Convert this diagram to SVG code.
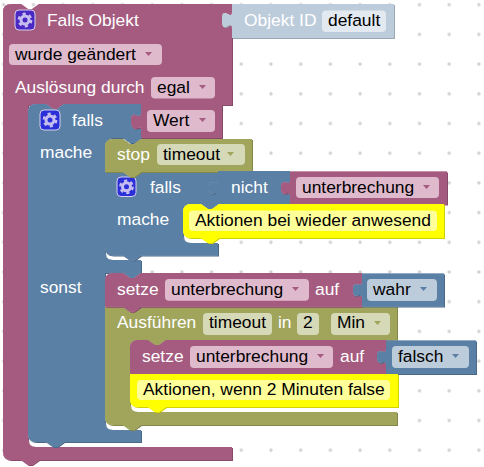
<svg xmlns="http://www.w3.org/2000/svg" width="484" height="467" viewBox="0 0 484 467">
<style>
text{font-family:"Liberation Sans",Arial,sans-serif;font-size:17.4px;fill:#fff}
text.f{fill:#000}
.b{filter:url(#bevel)}
.pu{fill:#a55b80}.bl{fill:#5b80a5}.ol{fill:#a0a55b}.lb{fill:#bdccdb}.ye{fill:#ffff00}
.fp{fill:#dfb9cc}.fo{fill:#d5d9b8}.fb{fill:#bdccdb}.fl{fill:#e3e9f1}.fy{fill:#ffff99}
.cp{fill:#a55b80}.co{fill:#a0a55b}.cb{fill:#5b80a5}
.ic{stroke:#d6d0ee;stroke-width:1}
.g{fill:none;stroke:#c6bdf0}
</style>
<defs>
<pattern id="dots" patternUnits="userSpaceOnUse" x="-11.15" y="-10.15" width="29.7" height="29.7"><circle cx="14.85" cy="14.85" r="1.7" fill="#d0d0d0"/></pattern>
<filter id="bevel" x="-5%" y="-5%" width="110%" height="110%" color-interpolation-filters="sRGB">
<feOffset in="SourceGraphic" dx="0.6" dy="0.6" result="d0"/>
<feComponentTransfer in="d0" result="d"><feFuncR type="linear" slope="0.82"/><feFuncG type="linear" slope="0.82"/><feFuncB type="linear" slope="0.82"/></feComponentTransfer>
<feOffset in="SourceGraphic" dx="-0.4" dy="-0.4" result="l0"/>
<feComponentTransfer in="l0" result="l"><feFuncR type="linear" slope="0.6" intercept="0.4"/><feFuncG type="linear" slope="0.6" intercept="0.4"/><feFuncB type="linear" slope="0.6" intercept="0.4"/></feComponentTransfer>
<feMerge><feMergeNode in="d"/><feMergeNode in="l"/><feMergeNode in="SourceGraphic"/></feMerge>
</filter>
<g id="gear"><circle class="g" r="4" stroke-width="3"/><circle class="g" r="6.2" stroke-width="2.4" stroke-dasharray="3.2 3.3"/></g>
</defs>
<rect width="484" height="467" fill="#fff"/>
<rect width="484" height="467" fill="url(#dots)"/>

<g id="connectors"></g>

<g id="falls-objekt">
<path class="b pu" d="M3 12Q3 4 11 4H21l7 5 4 0 7-5H232V105H64l-7 5-4 0-7-5H28V439Q28 447 36 447H232V460H39l-7 5-4 0-7-5H11Q3 460 3 452Z"/>
<rect x="15" y="10" width="20" height="20" rx="4" fill="#4a28c4" class="ic"/>
<use href="#gear" x="25" y="20"/>
<text x="47" y="26">Falls Objekt</text>
<rect class="fp" x="9" y="44" width="153" height="21" rx="4"/>
<text class="f" x="15" y="60">wurde geändert</text>
<polygon class="cp" points="145,52 152,52 148.5,56"/>
<text x="15" y="93">Auslösung durch</text>
<rect class="fp" x="151" y="77" width="64" height="21.500" rx="4"/>
<text class="f" x="157" y="93">egal</text>
<polygon class="cp" points="199,85 206,85 202.500,89"/>
</g>

<g id="objekt-id">
<path class="b lb" d="M232 38H394V4H232V12c0,10 -10,-8 -10,8s10,-2 10,8Z"/>
<text x="244" y="26">Objekt ID</text>
<rect class="fl" x="322" y="10.500" width="64" height="21.500" rx="4"/>
<text class="f" x="328" y="26">default</text>
</g>

<g id="falls-outer">
<path class="b bl" d="M28 112Q28 104 36 104H46l7 5 4 0 7-5H141V138l-7 5-4 0-7-5H113Q105 138 105 146V252Q105 260 113 260H141V273l-7 5-4 0-7-5H105V422Q105 430 113 430H141V442H64l-7 5-4 0-7-5H36Q28 442 28 434Z"/>
<rect x="40" y="110" width="20" height="20" rx="4" fill="#2a2fd8" class="ic"/>
<use href="#gear" x="50" y="120"/>
<text x="72" y="126">falls</text>
<text x="40" y="158">mache</text>
<text x="40" y="293">sonst</text>
</g>

<g id="wert">
<path class="b pu" d="M222 138H141V129c0,-5 -10,6 -10,-8s10,1 10,-8V105H222Z"/>
<rect class="fp" x="147" y="110" width="68" height="22" rx="4"/>
<text class="f" x="153" y="126">Wert</text>
<polygon class="cp" points="199,118 206,118 202.500,122"/>
</g>

<g id="falls-inner">
<path class="b bl" d="M105 171H218V205H219l-7 5-4 0-7-5H191Q183 205 183 213V235Q183 243 191 243H218V255.500H141l-7 5-4 0-7-5H113Q105 255.500 105 247.500Z"/>
<rect x="117" y="177" width="19" height="19.500" rx="4" fill="#2a2fd8" class="ic"/>
<use href="#gear" x="126.500" y="186.800"/>
<text x="150" y="193">falls</text>
<text x="117" y="225">mache</text>
</g>

<g id="stop">
<path class="b ol" d="M105 147Q105 139 113 139H123l7 5 4 0 7-5H252V172H141l-7 5-4 0-7-5H105Z"/>
<text x="117" y="160">stop</text>
<rect class="fo" x="157" y="144" width="88" height="21" rx="4"/>
<text class="f" x="163" y="160">timeout</text>
<polygon class="co" points="227,152 234,152 230.500,156"/>
</g>

<g id="nicht">
<path class="b bl" d="M290 205H218V196c0,-8 -9,4 -9,-8s9,0 9,-8V171H290Z"/>
<text x="231" y="193">nicht</text>
</g>

<g id="unterbrechung-1">
<path class="b pu" d="M447 204.500H290V196c0,-8 -9,4 -9,-8s9,0 9,-8V171.500H447Z"/>
<rect class="fp" x="296" y="177" width="143" height="21" rx="4"/>
<text class="f" x="302" y="193">unterbrechung</text>
<polygon class="cp" points="423,185 430,185 426.500,189"/>
</g>

<g id="kommentar-1">
<path class="b ye" d="M183 212Q183 204 191 204H201l7 5 4 0 7-5H444V238H219l-7 5-4 0-7-5H191Q183 238 183 230Z"/>
<rect class="fy" x="189" y="210.500" width="248" height="20.500" rx="4"/>
<text class="f" x="195" y="226">Aktionen bei wieder anwesend</text>
</g>

<g id="ausfuehren">
<path class="b ol" d="M105 306H397V340H166l-7 5-4 0-7-5H138Q130 340 130 348V404Q130 412 138 412H397V425H141l-7 5-4 0-7-5H113Q105 425 105 417Z"/>
<text x="117" y="328">Ausführen</text>
<rect class="fo" x="203" y="313" width="69" height="22" rx="4"/>
<text class="f" x="209" y="328">timeout</text>
<text x="278" y="328">in</text>
<rect class="fo" x="297" y="313" width="22" height="22" rx="4"/>
<text class="f" x="303" y="328">2</text>
<rect class="fo" x="331" y="313" width="59" height="22" rx="4"/>
<text class="f" x="337" y="328">Min</text>
<polygon class="co" points="374,321 381,321 377.500,325"/>
</g>

<g id="setze-1">
<path class="b pu" d="M105 281Q105 273 113 273H123l7 5 4 0 7-5H362V306.700H141l-7 5-4 0-7-5H105Z"/>
<text x="117" y="295">setze</text>
<rect class="fp" x="165" y="279" width="144" height="21.700" rx="4"/>
<text class="f" x="171" y="295">unterbrechung</text>
<polygon class="cp" points="292,287 299,287 295.500,291"/>
<text x="315" y="295">auf</text>
</g>

<g id="wahr">
<path class="b bl" d="M444 306.500H362V298c0,-8 -9,4 -9,-8s9,0 9,-8V273.500H444Z"/>
<rect class="fb" x="367" y="279" width="70" height="22" rx="4"/>
<text class="f" x="373" y="295">wahr</text>
<polygon class="cb" points="420,287 427,287 423.500,291"/>
</g>

<g id="setze-2">
<path class="b pu" d="M130 348Q130 340 138 340H148l7 5 4 0 7-5H386V374H166l-7 5-4 0-7-5H130Z"/>
<text x="142" y="362">setze</text>
<rect class="fp" x="190" y="346" width="143" height="22" rx="4"/>
<text class="f" x="196" y="362">unterbrechung</text>
<polygon class="cp" points="317,354 324,354 320.500,358"/>
<text x="340" y="362">auf</text>
</g>

<g id="falsch">
<path class="b bl" d="M476 374H386V365c0,-8 -9,4 -9,-8s9,0 9,-8V340.500H476Z"/>
<rect class="fb" x="392" y="346" width="77" height="22" rx="4"/>
<text class="f" x="398" y="362">falsch</text>
<polygon class="cb" points="452,354 459,354 455.500,358"/>
</g>

<g id="kommentar-2">
<path class="b ye" d="M130 374H398V407H166l-7 5-4 0-7-5H138Q130 407 130 399Z"/>
<rect class="fy" x="137" y="380" width="253" height="20" rx="4"/>
<text class="f" x="143" y="395">Aktionen, wenn 2 Minuten false</text>
</g>
</svg>
